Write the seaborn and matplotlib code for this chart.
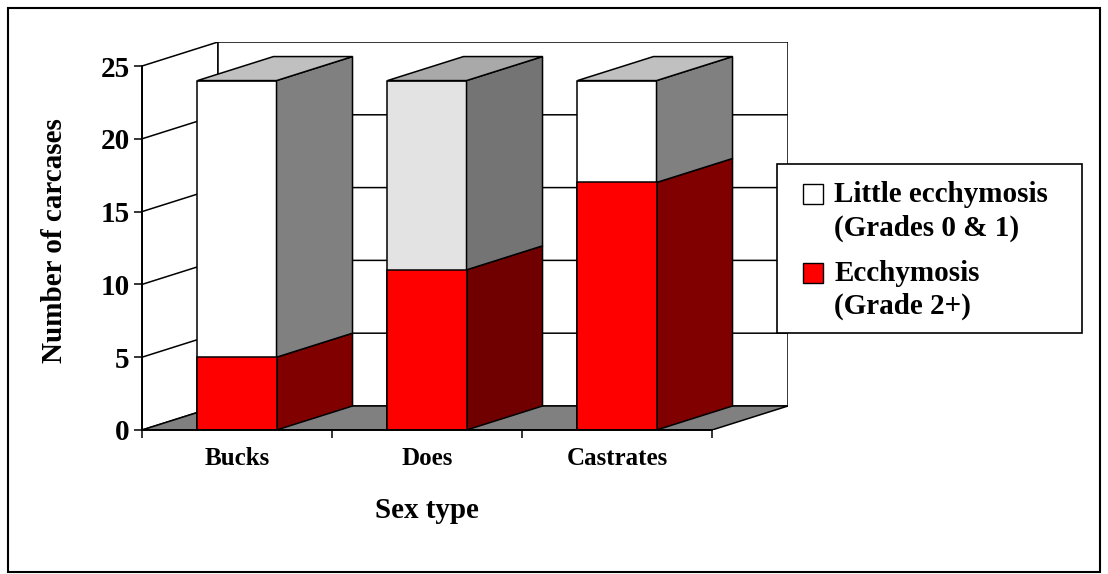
import matplotlib
matplotlib.use("Agg")
import matplotlib.pyplot as plt
from matplotlib.patches import Patch, Polygon, Rectangle
import seaborn as sns
import pandas as pd

# data
sex_types = ["Bucks", "Does", "Castrates"]
ecchymosis = [5, 11, 17]          # Grade 2+
little_ecchymosis = [19, 13, 7]   # Grades 0 & 1
y_ticks = [0, 5, 10, 15, 20, 25]
legend_labels = ["Little ecchymosis\n(Grades 0 & 1)", "Ecchymosis\n(Grade 2+)"]

totals = [a + b for a, b in zip(ecchymosis, little_ecchymosis)]
df = pd.DataFrame({"sex": sex_types, "total": totals, "ecchy": ecchymosis})

sns.set_theme(style="white")
plt.rcParams["font.family"] = ["Liberation Serif", "DejaVu Serif"]
plt.rcParams["font.weight"] = "bold"
plt.rcParams["axes.labelweight"] = "bold"
plt.rcParams["text.color"] = "black"
plt.rcParams["axes.labelcolor"] = "black"
plt.rcParams["axes.edgecolor"] = "black"
plt.rcParams["xtick.color"] = "black"
plt.rcParams["ytick.color"] = "black"

W, H = 1108, 574
fig = plt.figure(figsize=(W / 100, H / 100), dpi=100)
ax = fig.add_axes([142 / W, (H - 430) / H, (788 - 142) / W, (430 - 42) / H])

bar_w = 0.416
DX, DY = 0.4, 1.65     # depth offset of the fake 3d
ymax = y_ticks[-1]
lw = 1.1
x0, x1 = -0.5, len(sex_types) - 0.5

front_top = ["white", "#e3e3e3", "white"]
side_top = ["#808080", "#747474", "#808080"]
lid = ["#c0c0c0", "#a9a9a9", "#c0c0c0"]
side_red = ["#800000", "#700000", "#800000"]

# walls and floor
ax.add_patch(Polygon([(x0, 0), (x0 + DX, DY), (x0 + DX, ymax + DY), (x0, ymax)],
                     fc="white", ec="black", lw=lw, zorder=0))
ax.add_patch(Rectangle((x0 + DX, DY), x1 - x0, ymax, fc="white", ec="black", lw=lw, zorder=0))
for v in y_ticks[1:-1]:
    ax.plot([x0, x0 + DX, x1 + DX], [v, v + DY, v + DY], color="black", lw=lw, zorder=0.5)
ax.add_patch(Polygon([(x0, 0), (x1, 0), (x1 + DX, DY), (x0 + DX, DY)],
                     fc="#808080", ec="black", lw=lw, zorder=1))

# front faces
sns.barplot(data=df, x="sex", y="total", color="white", saturation=1, width=bar_w,
            edgecolor="black", linewidth=lw, ax=ax, zorder=3)
sns.barplot(data=df, x="sex", y="ecchy", color="red", saturation=1, width=bar_w,
            edgecolor="black", linewidth=lw, ax=ax, zorder=4)
for p, c in zip(ax.containers[0], front_top):
    p.set_facecolor(c)

# side and top faces
for i in range(len(sex_types)):
    xl, xr = i - bar_w / 2, i + bar_w / 2
    e, t = ecchymosis[i], totals[i]
    ax.add_patch(Polygon([(xr, 0), (xr + DX, DY), (xr + DX, e + DY), (xr, e)],
                         fc=side_red[i], ec="black", lw=lw, zorder=3))
    ax.add_patch(Polygon([(xr, e), (xr + DX, e + DY), (xr + DX, t + DY), (xr, t)],
                         fc=side_top[i], ec="black", lw=lw, zorder=3))
    ax.add_patch(Polygon([(xl, t), (xr, t), (xr + DX, t + DY), (xl + DX, t + DY)],
                         fc=lid[i], ec="black", lw=lw, zorder=3))

ax.set_xlim(x0, x1 + DX)
ax.set_ylim(0, ymax + DY)
for s in ["top", "right"]:
    ax.spines[s].set_visible(False)
ax.spines["left"].set_bounds(0, ymax)
ax.spines["bottom"].set_bounds(x0, x1)
ax.spines["left"].set_linewidth(1.4)
ax.spines["bottom"].set_linewidth(1.4)
ax.spines["left"].set_zorder(5)
ax.spines["bottom"].set_zorder(5)

ax.set_yticks(y_ticks)
ax.set_yticklabels([str(v) for v in y_ticks])
ax.set_xticks([x0 + k for k in range(len(sex_types) + 1)])
ax.set_xticklabels([])
ax.set_xticks(range(len(sex_types)), minor=True)
ax.set_xticklabels(sex_types, minor=True)
ax.tick_params(axis="y", left=True, direction="out", length=6, width=1.1, labelsize=21, pad=3)
ax.tick_params(axis="x", which="major", bottom=True, direction="out", length=6, width=1.1)
ax.tick_params(axis="x", which="minor", bottom=True, length=0, labelsize=18, pad=12)

ax.set_ylabel("Number of carcases", fontsize=21)
ax.yaxis.set_label_coords(-0.114, 0.487)
ax.set_xlabel("Sex type", fontsize=21)
ax.xaxis.set_label_coords(0.441, -0.173)

# legend with its own box
fig.add_artist(Rectangle((777 / W, 1 - 333 / H), 305 / W, 169 / H, transform=fig.transFigure,
                         fc="white", ec="black", lw=1.2, zorder=4))
handles = [Patch(fc="white", ec="black"), Patch(fc="red", ec="black")]
leg = fig.legend(handles=handles, labels=legend_labels, loc="upper left",
                 bbox_to_anchor=(803 / W, 1 - 181 / H), bbox_transform=fig.transFigure,
                 frameon=False, fontsize=21, handlelength=0.68, handleheight=0.68,
                 handletextpad=0.4, labelspacing=0.62, borderpad=0, borderaxespad=0)
for t in leg.get_texts():
    t.set_linespacing(1.3)
# put the swatch next to the first line of each label
for h in leg.legend_handles:
    h.set_y(h.get_y() + 12.6)

# outer chart border
fig.add_artist(Rectangle((8 / W, 2 / H), (1100 - 8) / W, (572 - 8) / H, transform=fig.transFigure,
                         fill=False, ec="black", lw=1.5))

fig.savefig("out.png", dpi=100)
